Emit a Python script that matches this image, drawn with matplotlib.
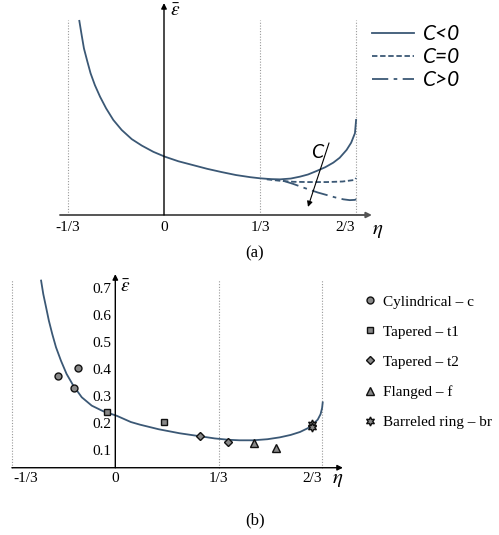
"""Strain ratio vs eta: (a) sketch of curves for sign of C, (b) model curve with test points."""

import matplotlib.pyplot as plt
from matplotlib.transforms import ScaledTranslation

# ---- panel (a) (arbitrary strain units) ----
eta_neg = [-0.294, -0.286, -0.278, -0.266, -0.255, -0.240, -0.222, -0.201, -0.176, -0.147,
           -0.112, -0.077, -0.037, 0.003, 0.05, 0.10, 0.15, 0.20, 0.25, 0.30, 0.333,
           0.37, 0.403, 0.44, 0.472, 0.50, 0.53, 0.56, 0.588, 0.61, 0.634, 0.65, 0.663, 0.667]
eps_neg = [0.719, 0.667, 0.617, 0.568, 0.525, 0.481, 0.438, 0.395, 0.352, 0.315,
           0.281, 0.257, 0.234, 0.216, 0.199, 0.185, 0.171, 0.159, 0.148, 0.140, 0.136,
           0.133, 0.132, 0.135, 0.142, 0.150, 0.163, 0.177, 0.194, 0.212, 0.241, 0.268, 0.303, 0.352]
eta_zero = [0.357, 0.40, 0.449, 0.50, 0.565, 0.62, 0.663, 0.667]
eps_zero = [0.132, 0.127, 0.123, 0.122, 0.122, 0.124, 0.130, 0.137]
eta_pos = [0.413, 0.449, 0.48, 0.507, 0.535, 0.565, 0.595, 0.623, 0.645, 0.663, 0.667]
eps_pos = [0.127, 0.115, 0.103, 0.093, 0.083, 0.074, 0.065, 0.058, 0.055, 0.056, 0.059]
curve_labels_a = ["C<0", "C=0", "C>0"]

# ---- panel (b): model curve and specimens ----
eta_b = [-0.239, -0.232, -0.223, -0.214, -0.203, -0.191, -0.175, -0.157, -0.135, -0.108,
         -0.076, -0.039, 0.005, 0.05, 0.08, 0.14, 0.208, 0.273, 0.32, 0.364, 0.40, 0.444,
         0.49, 0.53, 0.565, 0.595, 0.62, 0.638, 0.652, 0.661, 0.666, 0.668]
eps_b = [0.729, 0.679, 0.630, 0.580, 0.530, 0.481, 0.431, 0.382, 0.338, 0.295,
         0.264, 0.243, 0.226, 0.203, 0.193, 0.176, 0.161, 0.150, 0.142, 0.137, 0.135, 0.135,
         0.139, 0.146, 0.155, 0.166, 0.180, 0.196, 0.212, 0.232, 0.255, 0.276]

cyl_eta, cyl_eps = [-0.186, -0.134, -0.120], [0.375, 0.331, 0.405]
t1_eta, t1_eps = [-0.028, 0.157], [0.241, 0.202]
t2_eta, t2_eps = [0.273, 0.364], [0.150, 0.128]
fl_eta, fl_eps = [0.447, 0.517], [0.125, 0.105]
br_eta, br_eps = [0.632, 0.634], [0.197, 0.186]
specimen_labels = ["Cylindrical – c", "Tapered – t1", "Tapered – t2",
                   "Flanged – f", "Barreled ring – br"]

tick_pos = [-1/3, 0, 1/3, 2/3]
tick_labels = ["-1/3", "0", "1/3", "2/3"]
yticks_b = [0.1, 0.2, 0.3, 0.4, 0.5, 0.6, 0.7]

LINE = "#3b5875"
SERIF = "Liberation Serif"
plt.rcParams["font.family"] = SERIF
plt.rcParams["mathtext.fontset"] = "stix"

fig = plt.figure(figsize=(4.99, 5.35), dpi=100)
ax_a = fig.add_axes([40/499, 1 - 240/535, 340/499, 240/535])
ax_b = fig.add_axes([5/499, 56/535 - 25/535, 345/499, 250/535])

arrow = dict(arrowstyle="-|>", color="k", lw=1.0, mutation_scale=8, shrinkA=0, shrinkB=0)
guide = dict(color="#999999", lw=0.8, ls=(0, (1, 1.5)))


def set_ticks(ax, y0, pad, shifts):
    for s in ax.spines.values():
        s.set_visible(False)
    ax.spines["bottom"].set_position(("data", y0))
    ax.spines["left"].set_position(("data", 0))
    ax.set_xticks(tick_pos, tick_labels, fontsize=11)
    ax.tick_params(axis="both", length=0, pad=pad)
    for lab, dx in zip(ax.get_xticklabels(), shifts):
        lab.set_transform(lab.get_transform() + ScaledTranslation(dx / 100, 0, fig.dpi_scale_trans))


# ---------------- (a) ----------------
ax_a.set_xlim((40 - 164) / 288, (380 - 164) / 288)
ax_a.set_ylim(-25 / 270, 215 / 270)
set_ticks(ax_a, 0, 4, [0, 0, 0, -11])
ax_a.set_yticks([])
for x in [-1/3, 1/3, 2/3]:
    ax_a.plot([x, x], [0, 0.722], **guide)
ax_a.annotate("", xy=(0.722, 0), xytext=(-0.361, 0),
              arrowprops={**arrow, "color": "#555555", "lw": 1.4})
ax_a.annotate("", xy=(0, 0.785), xytext=(0, 0), arrowprops=arrow)

la, = ax_a.plot(eta_neg, eps_neg, color=LINE, lw=1.3)
lb, = ax_a.plot(eta_zero, eps_zero, color=LINE, lw=1.3, ls=(0, (3, 1.5)))
lc, = ax_a.plot(eta_pos, eps_pos, color=LINE, lw=1.3, ls=(0, (9, 3, 2, 3)))
ax_a.annotate("", xy=(0.500, 0.030), xytext=(0.573, 0.267),
              arrowprops=dict(arrowstyle="-|>", color="k", lw=0.8, mutation_scale=8,
                              shrinkA=0, shrinkB=0))
ax_a.text(0.531, 0.233, "C", fontfamily="Lato", style="italic", fontsize=14,
          ha="center", va="center")
ax_a.text(0.743, -0.056, r"$\eta$", fontsize=15, ha="center", va="center", clip_on=False)
ax_a.text(0.021, 0.755, r"$\bar{\varepsilon}$", fontsize=14, ha="left", va="center")
fig.legend([la, lb, lc], curve_labels_a, loc="upper left",
           bbox_to_anchor=(372/499, 1 - 24/535), bbox_transform=fig.transFigure,
           frameon=False, borderpad=0, borderaxespad=0, handlelength=2.0,
           handletextpad=0.45, labelspacing=0.15,
           prop=dict(family="Lato", style="italic", size=15))
fig.text(255/499, 1 - 253/535, "(a)", fontsize=12, ha="center", va="center")

# ---------------- (b) ----------------
ax_b.set_xlim((5 - 115.3) / 310.5, (350 - 115.3) / 310.5)
ax_b.set_ylim((492.6 - 520) / 268.9, (492.6 - 270) / 268.9)
set_ticks(ax_b, 0.033, 3, [14, 0, 0, -10])
ax_b.set_yticks(yticks_b, [f"{v:.1f}" for v in yticks_b], fontsize=11)
for x in [-1/3, 1/3, 2/3]:
    ax_b.plot([x, x], [0.033, 0.731], **guide)
ax_b.annotate("", xy=(0.733, 0.033), xytext=(-0.333, 0.033), arrowprops=arrow)
ax_b.annotate("", xy=(0, 0.753), xytext=(0, 0.033), arrowprops=arrow)

ax_b.plot(eta_b, eps_b, color=LINE, lw=1.3)
mk = dict(ls="none", mfc="#888888", mec="#111111", mew=1.0, ms=5)
h1, = ax_b.plot(cyl_eta, cyl_eps, marker="o", **mk)
h2, = ax_b.plot(t1_eta, t1_eps, marker="s", **mk)
h3, = ax_b.plot(t2_eta, t2_eps, marker="D", **{**mk, "ms": 4.5})
h4, = ax_b.plot(fl_eta, fl_eps, marker="^", **{**mk, "ms": 5.5})
h5, = ax_b.plot(br_eta, br_eps, marker=(6, 1, 0), **{**mk, "ms": 6.5})
ax_b.text(0.717, -0.009, r"$\eta$", fontsize=15, ha="center", va="center", clip_on=False)
ax_b.text(0.015, 0.705, r"$\bar{\varepsilon}$", fontsize=14, ha="left", va="center")
fig.legend([h1, h2, h3, h4, h5], specimen_labels, loc="upper left",
           bbox_to_anchor=(364/499, 1 - 295/535), bbox_transform=fig.transFigure,
           frameon=False, borderpad=0, borderaxespad=0, handlelength=0.8,
           handletextpad=0.45, labelspacing=1.07,
           prop=dict(size=11))
fig.text(255/499, 1 - 520/535, "(b)", fontsize=12, ha="center", va="center")

fig.savefig("out.png", dpi=100)
